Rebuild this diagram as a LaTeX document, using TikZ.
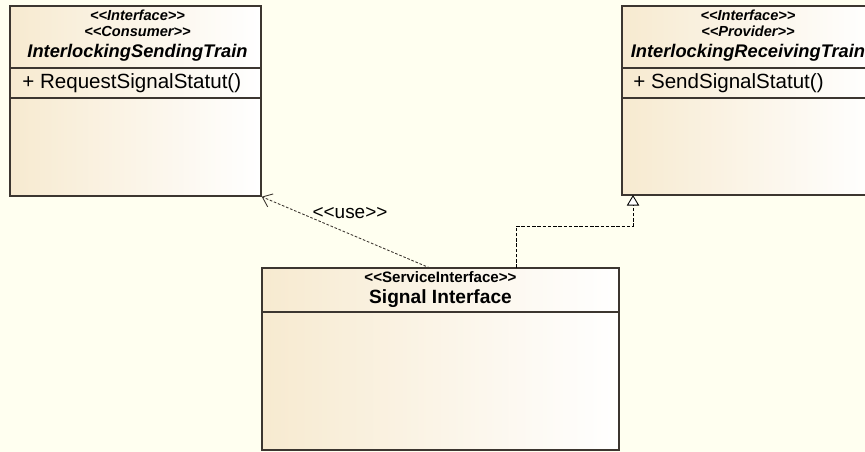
\documentclass[tikz,border=0pt]{standalone}
\usepackage{fontspec}
\setmainfont{Liberation Sans}
\usetikzlibrary{arrows.meta}
\definecolor{ivory}{HTML}{FFFFF0}
\definecolor{beige}{HTML}{F7EAD0}
\definecolor{umlline}{HTML}{3C3630}
\begin{document}
\begin{tikzpicture}[classbox/.style={rectangle,draw=umlline,line width=0.8pt,left color=beige,right color=white,inner sep=0pt},
            stereo/.style={font=\fontsize{8.3}{9}\selectfont\bfseries\itshape,inner sep=0pt},
            clsname/.style={font=\fontsize{10.4}{12}\selectfont\bfseries\itshape,inner sep=0pt},
            opline/.style={font=\fontsize{11.7}{14}\selectfont,inner sep=0pt,anchor=west},
            usedep/.style={draw=umlline,line width=0.5pt,dash pattern=on 1.5pt off 1pt,-{Straight Barb[length=5pt,width=8pt]}},
            realdep/.style={draw=black,line width=0.5pt,dash pattern=on 2pt off 1pt,-{Triangle[open,length=6pt,width=7pt,fill=white]}}]
            \clip (0,0) rectangle (17.3,-9.04);
            \fill[ivory] (0,0) rectangle (17.3,-9.04);

            % consumer interface
            \node[classbox,minimum width=5.02cm,minimum height=3.8cm] (sending) at (2.71,-2.02) {};
            \draw[umlline,line width=0.8pt] (0.2,-1.36) -- (5.22,-1.36);
            \draw[umlline,line width=0.8pt] (0.2,-1.96) -- (5.22,-1.96);
            \node[stereo] (sendst1) at (2.75,-0.30) {<{}<Interface>{}>};
            \node[stereo] (sendst2) at (2.75,-0.62) {<{}<Consumer>{}>};
            \node[clsname] (sendname) at (2.75,-1.06) {InterlockingSendingTrain};
            \node[opline] (sendop) at (0.44,-1.66) {+ RequestSignalStatut()};

            % provider interface
            \node[classbox,minimum width=5.02cm,minimum height=3.78cm] (receiving) at (14.95,-2.01) {};
            \draw[umlline,line width=0.8pt] (12.44,-1.36) -- (17.46,-1.36);
            \draw[umlline,line width=0.8pt] (12.44,-1.96) -- (17.46,-1.96);
            \node[stereo] (recst1) at (14.96,-0.30) {<{}<Interface>{}>};
            \node[stereo] (recst2) at (14.96,-0.62) {<{}<Provider>{}>};
            \node[clsname] (recname) at (14.96,-1.06) {InterlockingReceivingTrain};
            \node[opline] (recop) at (12.66,-1.66) {+ SendSignalStatut()};

            % service interface
            \node[classbox,minimum width=7.14cm,minimum height=3.64cm] (signal) at (8.81,-7.18) {};
            \draw[umlline,line width=0.8pt] (5.24,-6.24) -- (12.38,-6.24);
            \node[stereo,font=\fontsize{8.6}{9}\selectfont\bfseries] (sigst) at (8.81,-5.54) {<{}<ServiceInterface>{}>};
            \node[clsname,font=\fontsize{10.9}{12}\selectfont\bfseries] (signame) at (8.81,-5.98) {Signal Interface};

            \coordinate (usefrom) at (8.6,-5.36);
            \coordinate (realfrom) at (10.32,-5.36);
            \coordinate (realbend) at (10.32,-4.52);
            \coordinate (realto) at (12.66,-3.9);

            \draw[usedep] (usefrom) to (sending.south east);
            \node[font=\fontsize{10.8}{12}\selectfont,inner sep=0pt] (uselab) at (7.0,-4.26) {<{}<use>{}>};

            \draw[realdep] (realfrom) -- (realbend) -| (realto);
        \end{tikzpicture}
\end{document}
